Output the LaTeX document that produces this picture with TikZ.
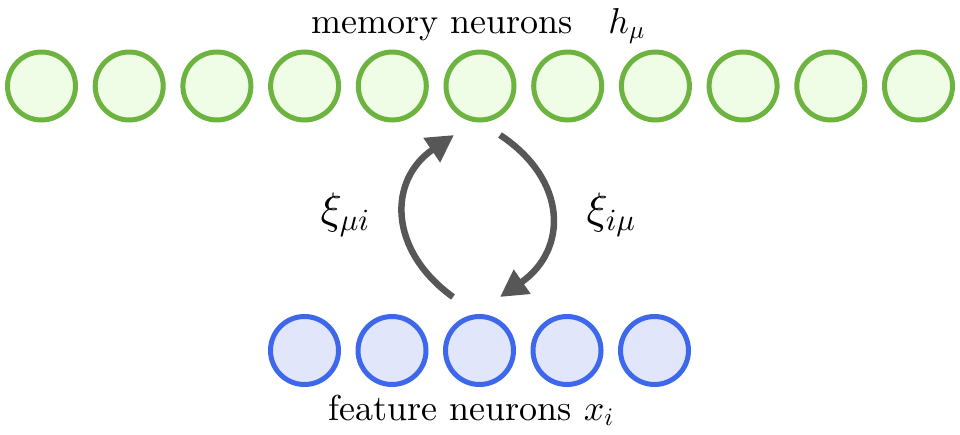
\documentclass[tikz,border=0pt]{standalone}
\usepackage{fontspec}
\setmainfont{lmroman10-regular}[Extension=.otf]
\DeclareFontShape{OML}{cmm}{m}{it}{<-6>cmmi5 <6-7>cmmi6 <7-8>cmmi7 <8-9>cmmi8 <9-10>cmmi9 <10->cmmi10}{}
\DeclareFontShape{OMS}{cmsy}{m}{n}{<-6>cmsy5 <6-7>cmsy6 <7-8>cmsy7 <8-9>cmsy8 <9-10>cmsy9 <10->cmsy10}{}
\DeclareFontShape{OT1}{cmr}{m}{n}{<-6>cmr5 <6-7>cmr6 <7-8>cmr7 <8-9>cmr8 <9-10>cmr9 <10->cmr10}{}
\DeclareFontShape{OMX}{cmex}{m}{n}{<->cmex10}{}
\usetikzlibrary{arrows.meta}
\definecolor{memline}{HTML}{6DB33F}
\definecolor{memfill}{HTML}{EFFCE6}
\definecolor{featline}{HTML}{3E68EC}
\definecolor{featfill}{HTML}{E2E6FA}
\definecolor{arrgray}{HTML}{575757}
\begin{document}
\begin{tikzpicture}[x=1pt,y=-1pt,
  memneuron/.style={circle,draw=memline,fill=memfill,line width=5pt,minimum size=68pt,inner sep=0pt},
  featneuron/.style={circle,draw=featline,fill=featfill,line width=5pt,minimum size=68pt,inner sep=0pt},
  flow/.style={draw=arrgray,line width=6.5pt,-{Triangle[length=27pt,width=28pt]}},
  bigtext/.style={font=\fontsize{36}{42}\selectfont,inner sep=0pt},
  wlabel/.style={font=\fontsize{44}{50}\selectfont,inner sep=0pt}]
\useasboundingbox (0,0) rectangle (960,434);
\foreach \i in {0,...,10} {
  \node[memneuron] (m\i) at ({41.5+87.7*\i},86) {};
}
\foreach \i in {0,...,4} {
  \node[featneuron] (f\i) at ({304.5+87.5*\i},350.5) {};
}
\node[bigtext,anchor=base] (memlabel) at (478,33) {memory neurons\quad$h_\mu$};
\node[bigtext,anchor=base] (featlabel) at (471,420) {feature neurons $x_i$};
\coordinate (upstart) at (453,297);
\coordinate (upend) at (454,135);
\coordinate (downstart) at (500,135);
\coordinate (downend) at (500,297);
\draw[flow] (upstart) .. controls (388,250) and (388,180) .. (upend);
\draw[flow] (downstart) .. controls (568,180) and (568,250) .. (downend);
\node[wlabel] (ximui) at (345,215) {$\xi_{\mu i}$};
\node[wlabel] (xiimu) at (611,215) {$\xi_{i\mu}$};
\end{tikzpicture}
\end{document}
